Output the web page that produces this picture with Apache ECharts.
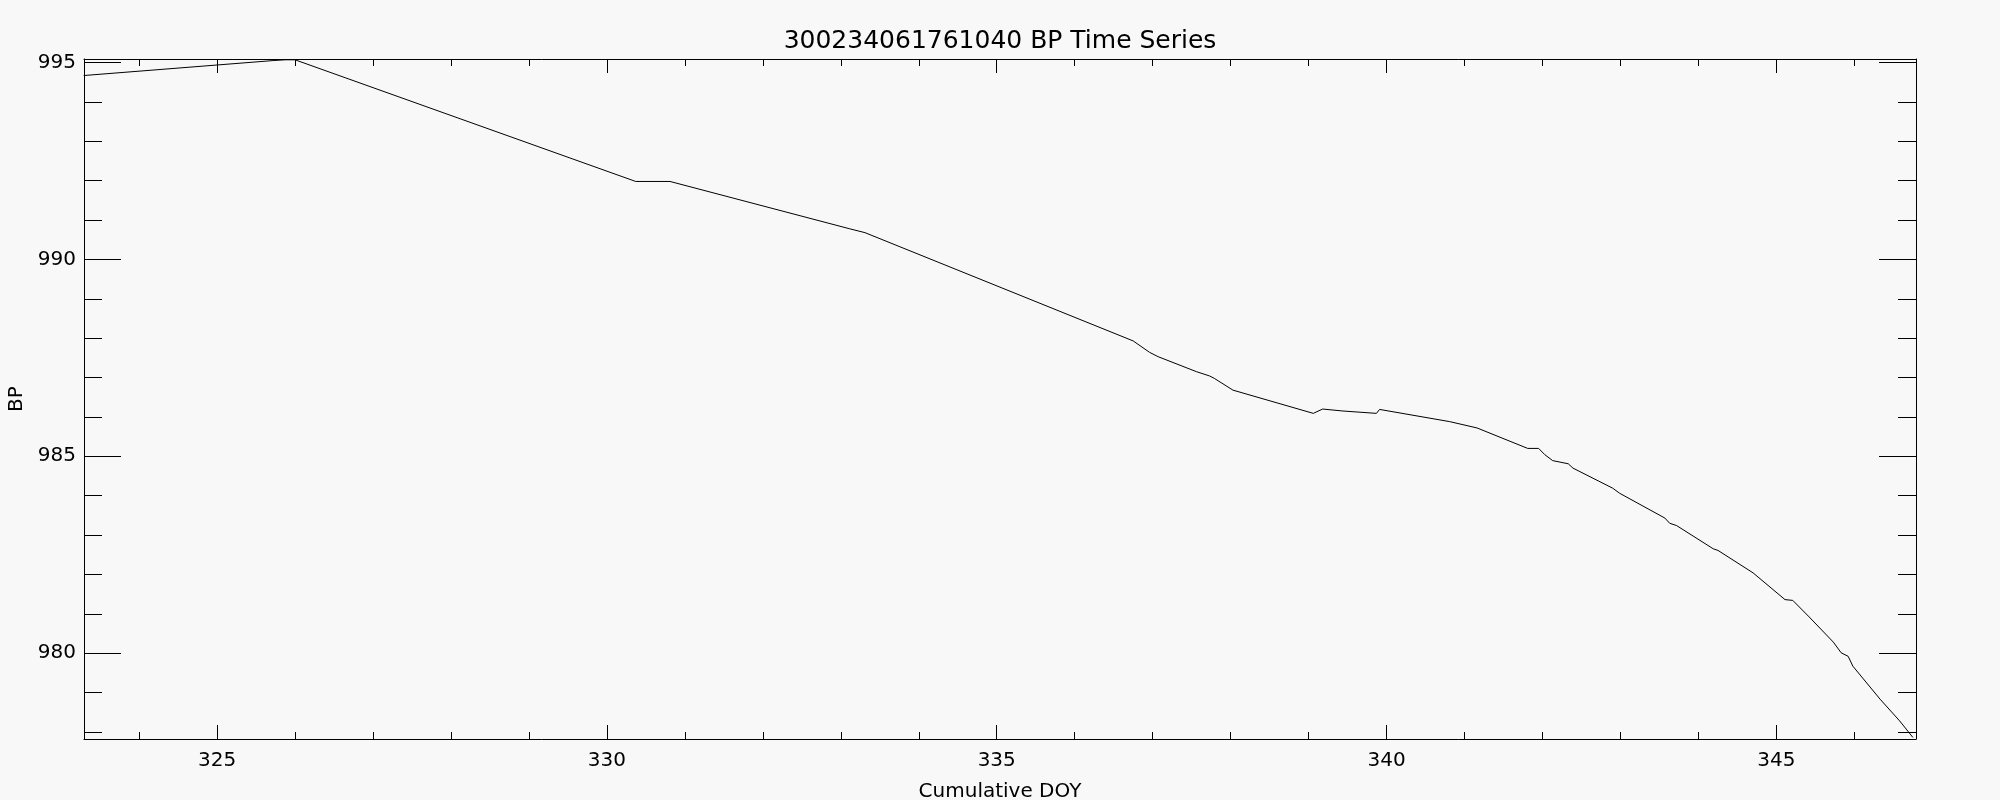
<!DOCTYPE html>
<html><head><meta charset="utf-8">
<script src="https://cdn.jsdelivr.net/npm/echarts@6/dist/echarts.min.js"></script>
<style>html,body{margin:0;padding:0;background:#f8f8f8;}#c{width:2000px;height:800px;}</style>
</head><body><div id="c"></div>
<script>
const doy = [323.29, 325.72, 325.88, 326.00, 330.37, 330.81, 333.11, 333.31, 336.75, 336.96, 337.07, 337.56, 337.73, 337.79, 338.03, 339.06, 339.18, 339.44, 339.87, 339.91, 340.81, 341.16, 341.81, 341.95, 342.03, 342.13, 342.33, 342.39, 342.90, 342.99, 343.57, 343.63, 343.72, 344.19, 344.25, 344.70, 345.11, 345.21, 345.42, 345.73, 345.83, 345.92, 345.98, 346.33, 346.58, 346.75];
const bp = [994.67, 995.05, 995.07, 995.07, 991.98, 991.98, 990.78, 990.68, 987.93, 987.64, 987.53, 987.15, 987.04, 986.98, 986.68, 986.09, 986.20, 986.15, 986.09, 986.19, 985.88, 985.72, 985.20, 985.20, 985.04, 984.89, 984.81, 984.70, 984.19, 984.06, 983.43, 983.30, 983.24, 982.65, 982.61, 982.04, 981.36, 981.34, 980.92, 980.28, 980.01, 979.92, 979.67, 978.83, 978.28, 977.86];
const xMajor = [325, 330, 335, 340, 345];
const xMinor = [324, 325, 326, 327, 328, 329, 330, 331, 332, 333, 334, 335, 336, 337, 338, 339, 340, 341, 342, 343, 344, 345, 346];
const yMajor = [980, 985, 990, 995];
const yMinor = [978, 979, 980, 981, 982, 983, 984, 985, 986, 987, 988, 989, 990, 991, 992, 993, 994, 995];
const titleText = '300234061761040 BP Time Series';
const xName = 'Cumulative DOY';
const yName = 'BP';

const X_MIN = 323.294, X_MAX = 346.79, Y_MIN = 977.82, Y_MAX = 995.09;
const FONT = 'DejaVu Sans';
const black = '#000';

function xAx(pos, ticks, len, line, labels) {
  return {
    type: 'value', position: pos, min: X_MIN, max: X_MAX, gridIndex: 0,
    axisLine: { show: line, lineStyle: { color: black, width: 1 } },
    axisTick: { show: true, inside: true, length: len, customValues: ticks, lineStyle: { color: black, width: 1 } },
    axisLabel: labels ? { show: true, customValues: ticks, margin: 12, color: black, fontFamily: FONT, fontSize: 20 } : { show: false },
    splitLine: { show: false }
  };
}
function yAx(pos, ticks, len, line, labels) {
  return {
    type: 'value', position: pos, min: Y_MIN, max: Y_MAX, gridIndex: 0,
    axisLine: { show: line, lineStyle: { color: black, width: 1 } },
    axisTick: { show: true, inside: true, length: len, customValues: ticks, lineStyle: { color: black, width: 1 } },
    axisLabel: labels ? { show: true, customValues: ticks, margin: 8, color: black, fontFamily: FONT, fontSize: 20 } : { show: false },
    splitLine: { show: false }
  };
}

const xs = [xAx('bottom', xMajor, 14, true, true), xAx('bottom', xMinor, 7, false, false), xAx('top', xMajor, 14, true, false), xAx('top', xMinor, 7, false, false)];
Object.assign(xs[0], { name: xName, nameLocation: 'middle', nameGap: 43, nameTextStyle: { color: black, fontFamily: FONT, fontSize: 20 } });
const ys = [yAx('left', yMajor, 37, true, true), yAx('left', yMinor, 18, false, false), yAx('right', yMajor, 37, true, false), yAx('right', yMinor, 18, false, false)];
Object.assign(ys[0], { name: yName, nameLocation: 'middle', nameGap: 57, nameRotate: 90, nameTextStyle: { color: black, fontFamily: FONT, fontSize: 20 } });

const chart = echarts.init(document.getElementById('c'), null, { renderer: 'canvas' });
chart.setOption({
  animation: false,
  backgroundColor: '#f8f8f8',
  title: { text: titleText, left: 'center', top: 24, textStyle: { color: black, fontFamily: FONT, fontSize: 25, fontWeight: 'normal' } },
  grid: { left: 84, top: 59, width: 1832, height: 680, show: false, containLabel: false, outerBoundsMode: 'none' },
  xAxis: xs,
  yAxis: ys,
  series: [{
    type: 'line', xAxisIndex: 0, yAxisIndex: 0, showSymbol: false, symbol: 'none',
    lineStyle: { color: black, width: 1 }, clip: true,
    data: doy.map((d, i) => [d, bp[i]])
  }]
});
</script>
</body></html>
